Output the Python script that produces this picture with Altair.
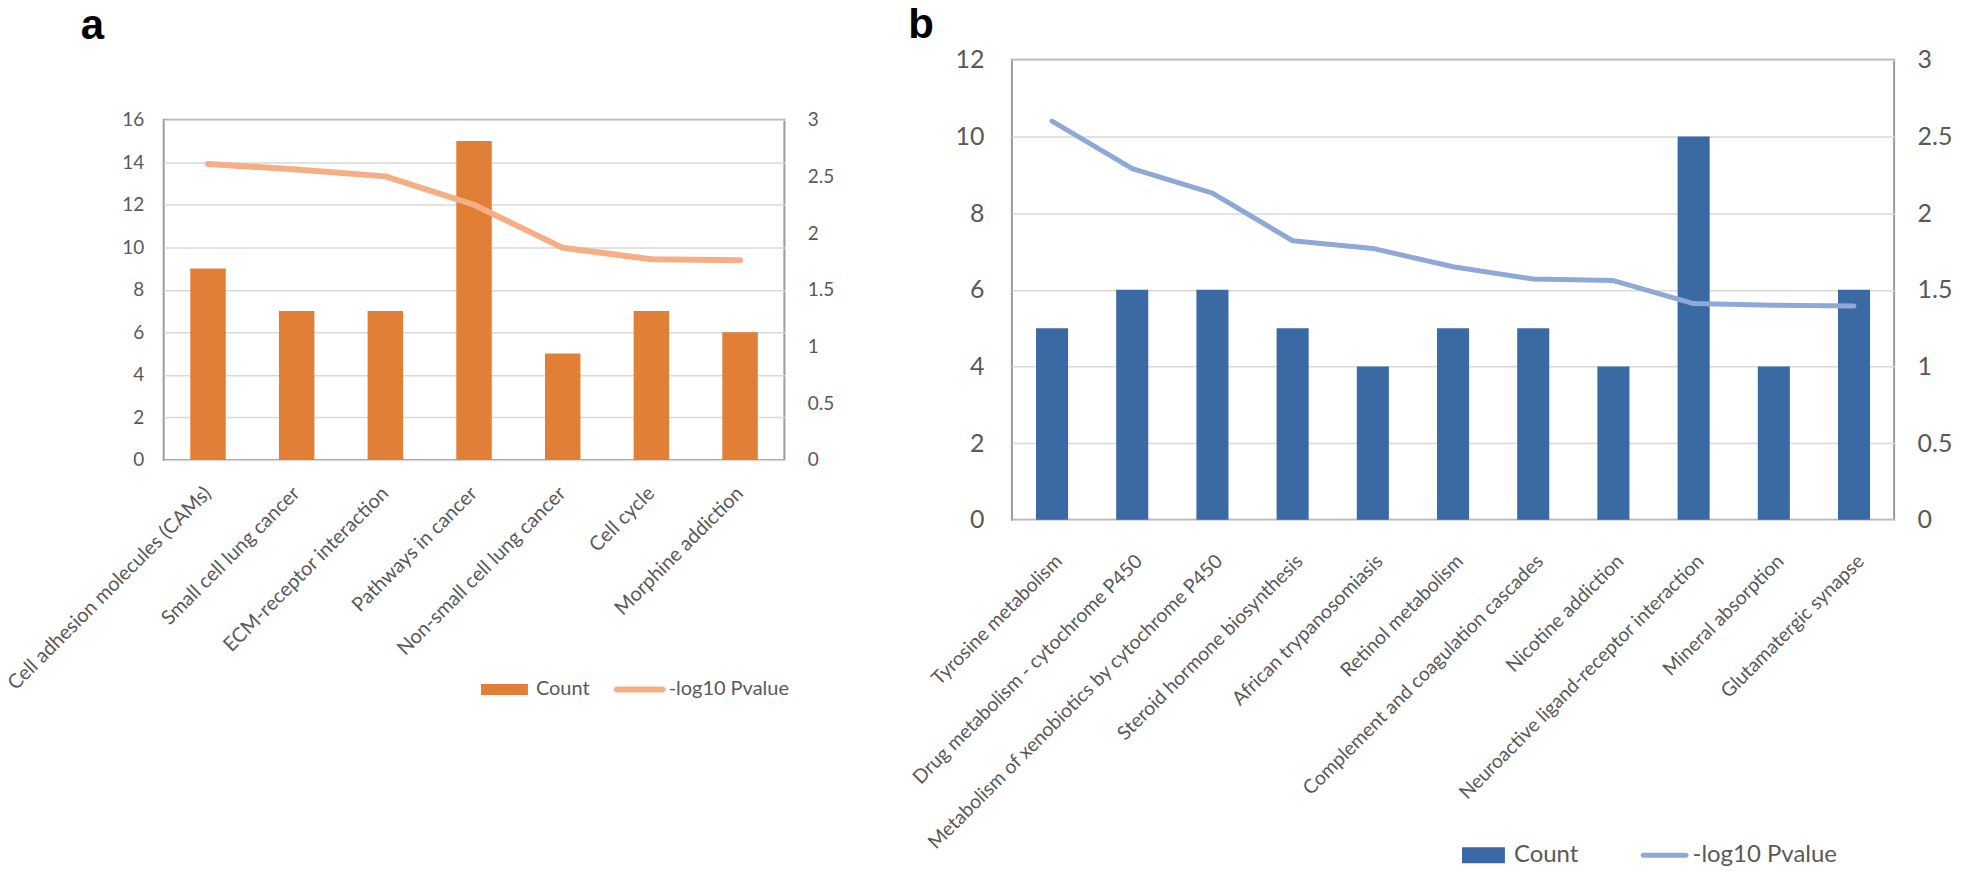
import altair as alt
import pandas as pd

# ---------------- data ----------------
cats_a = ["Cell adhesion molecules (CAMs)", "Small cell lung cancer",
          "ECM-receptor interaction", "Pathways in cancer",
          "Non-small cell lung cancer", "Cell cycle", "Morphine addiction"]
count_a = [9, 7, 7, 15, 5, 7, 6]
logp_a = [2.61, 2.56, 2.50, 2.25, 1.87, 1.77, 1.76]

cats_b = ["Tyrosine metabolism", "Drug metabolism - cytochrome P450",
          "Metabolism of xenobiotics by cytochrome P450",
          "Steroid hormone biosynthesis", "African trypanosomiasis",
          "Retinol metabolism", "Complement and coagulation cascades",
          "Nicotine addiction", "Neuroactive ligand-receptor interaction",
          "Mineral absorption", "Glutamatergic synapse"]
count_b = [5, 6, 6, 5, 4, 5, 5, 4, 10, 4, 6]
logp_b = [2.60, 2.29, 2.13, 1.82, 1.77, 1.65, 1.57, 1.56, 1.41, 1.40, 1.395]

count_ticks_a = [0, 2, 4, 6, 8, 10, 12, 14, 16]
count_ticks_b = [0, 2, 4, 6, 8, 10, 12]
p_ticks = [0, 0.5, 1, 1.5, 2, 2.5, 3]
legend_labels = ["Count", "-log10 Pvalue"]

# ---------------- style ----------------
FONT = "Lato"
LABEL = "#595959"
GRID = "#D9D9D9"


def spacer(letter, h, dx):
    return alt.Chart(pd.DataFrame({"v": [0]})).mark_point(opacity=0).properties(
        width=1, height=h, view=alt.ViewBackground(stroke="transparent"),
        title=alt.TitleParams(text=letter, anchor="start", frame="group",
                              dx=dx, offset=-12, fontSize=42,
                              font="Liberation Sans", fontWeight="bold",
                              color="black"))


def panel(cats, counts, logps, *, w, h, count_ticks, bar_color, line_color,
          fs, xfs, xpad, xoff, ypad, rpad, line_w,
          leg_x, leg_y, leg_fs, leg_off, leg_colpad, bar_path, line_path):
    df = pd.DataFrame({"pathway": cats, "Count": counts, "logp": logps})
    x = alt.X("pathway:N", sort=cats,
              scale=alt.Scale(paddingInner=0.6, paddingOuter=0.3),
              axis=alt.Axis(title=None, labelAngle=-45, labelAlign="right",
                            labelBaseline="middle", ticks=False, domain=False,
                            labelPadding=xpad, labelOffset=xoff, labelFontSize=xfs,
                            labelLimit=700, labelFont=FONT, labelColor=LABEL))
    shape_sig = "datum.label === 'Count' ? '%s' : '%s'" % (bar_path, line_path)
    leg = alt.Legend(title=None, orient="none", legendX=leg_x, legendY=leg_y,
                     direction="horizontal", symbolSize=400, symbolStrokeWidth=0,
                     symbolType=alt.ExprRef(expr=shape_sig), symbolOpacity=1,
                     labelFontSize=leg_fs, labelFont=FONT, labelColor=LABEL,
                     labelOffset=leg_off, columnPadding=leg_colpad, padding=0)
    cscale = alt.Scale(domain=legend_labels, range=[bar_color, line_color])
    base = alt.Chart(df)
    bars = base.mark_bar().transform_calculate(series="'%s'" % legend_labels[0]).encode(
        x=x,
        y=alt.Y("Count:Q", scale=alt.Scale(domain=[0, count_ticks[-1]], nice=False),
                axis=alt.Axis(orient="left", values=count_ticks, format="d", title=None,
                              grid=True, gridColor=GRID, gridWidth=1.5, ticks=False,
                              domain=False, labelPadding=ypad, labelFontSize=fs,
                              labelFont=FONT, labelColor=LABEL)),
        color=alt.Color("series:N", scale=cscale, legend=leg, sort=legend_labels),
    )
    line = base.mark_line(strokeWidth=line_w, strokeCap="round",
                          strokeJoin="round").transform_calculate(
        series="'%s'" % legend_labels[1]).encode(
        x=x,
        y=alt.Y("logp:Q", scale=alt.Scale(domain=[0, 3], nice=False),
                axis=alt.Axis(orient="right", values=p_ticks, format=".1~f", title=None,
                              grid=False, ticks=False, domain=False,
                              labelPadding=rpad, labelFontSize=fs,
                              labelFont=FONT, labelColor=LABEL)),
        color=alt.Color("series:N", scale=cscale, legend=leg, sort=legend_labels),
    )
    return alt.layer(bars, line).resolve_scale(y="independent").properties(
        width=w, height=h)


pa = panel(cats_a, count_a, logp_a, w=622, h=341, count_ticks=count_ticks_a,
           bar_color="#E07F35", line_color="#F5AE85", fs=19, xfs=20, xpad=30, xoff=0,
           ypad=20, rpad=23, line_w=6,
           leg_x=318, leg_y=645, leg_fs=20, leg_off=35, leg_colpad=24,
           bar_path="M-1,-0.55H3.7V0.55H-1Z",
           line_path="M-0.7,-0.3H3.9A0.3,0.3 0 0 1 3.9,0.3H-0.7A0.3,0.3 0 0 1 -0.7,-0.3Z")

pb = panel(cats_b, count_b, logp_b, w=884, h=461, count_ticks=count_ticks_b,
           bar_color="#3B69A3", line_color="#8EA8D8", fs=25, xfs=19.5, xpad=38, xoff=7,
           ypad=28, rpad=23, line_w=5,
           leg_x=449, leg_y=809, leg_fs=24, leg_off=30, leg_colpad=60,
           bar_path="M-1,-0.8H3.3V0.8H-1Z",
           line_path="M-0.75,-0.25H3.55A0.25,0.25 0 0 1 3.55,0.25H-0.75A0.25,0.25 0 0 1 -0.75,-0.25Z")

col_a = alt.vconcat(spacer("a", 73, -83), pa, spacing=0)
col_b = alt.vconcat(spacer("b", 4, -104), pb, spacing=0)

chart = alt.hconcat(col_a, col_b, spacing=72).resolve_scale(color="independent").configure_view(
    stroke="#9B9B9B", strokeWidth=2).properties(
    padding={"left": -6, "top": -6, "right": 0, "bottom": 0})

chart.save("out.html", embed_options={"renderer": "svg", "actions": False})
